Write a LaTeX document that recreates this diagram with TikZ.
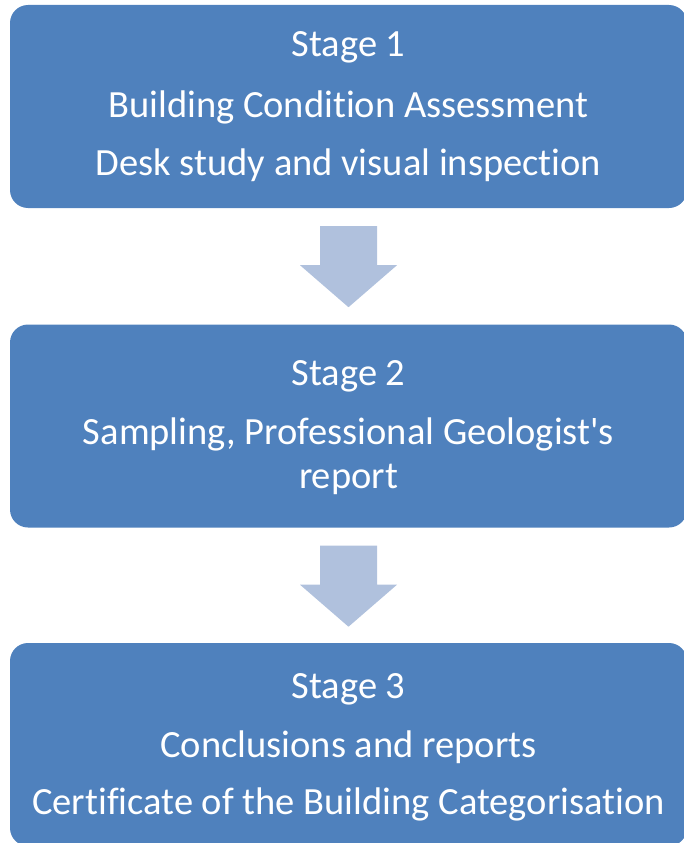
\documentclass[tikz,border=0pt]{standalone}
\usepackage{fontspec}
\setmainfont{Carlito}[Ligatures={NoCommon}]
\usetikzlibrary{calc}

\definecolor{stageblue}{HTML}{4F81BD}
\definecolor{arrowblue}{HTML}{B0C1DD}

\tikzset{
  stagebox/.style={fill=stageblue, draw=none, rounded corners=18pt,
    minimum width=677pt, minimum height=203pt, inner sep=0pt},
  stagetext/.style={text=white, anchor=base, inner sep=0pt,
    font=\fontsize{38.5}{46}\selectfont},
  flowarrow/.style={fill=arrowblue, draw=none}
}

% down-pointing block arrow placed below the south anchor of a box
\newcommand\stagearrow[1]{%
  \fill[flowarrow]
    ($(#1.south)+(-28.5,18)$) -- ($(#1.south)+(28.5,18)$) --
    ($(#1.south)+(28.5,57)$) -- ($(#1.south)+(48.5,57)$) --
    ($(#1.south)+(0,99)$) -- ($(#1.south)+(-48.5,57)$) --
    ($(#1.south)+(-28.5,57)$) -- cycle;}

\begin{document}
\begin{tikzpicture}[x=1pt, y=-1pt]
  \useasboundingbox (0,0) rectangle (684,843);

  % stage boxes
  \node[stagebox] (b1) at (348.5,106.5) {};
  \node[stagebox] (b2) at (348.5,426) {};
  \node[stagebox] (b3) at (348.5,744.5) {};

  % arrows between stages
  \stagearrow{b1}
  \stagearrow{b2}

  % stage 1
  \node[stagetext] (s1a) at (348.5,57) {Stage 1};
  \node[stagetext] (s1b) at (348.5,117) {Building Condition Assessment};
  \node[stagetext] (s1c) at (348.5,175) {Desk study and visual inspection};

  % stage 2
  \node[stagetext] (s2a) at (348.5,385) {Stage 2};
  \node[stagetext] (s2b) at (348.5,444) {Sampling, Professional Geologist\textquotesingle s};
  \node[stagetext] (s2c) at (348.5,488) {report};

  % stage 3
  \node[stagetext] (s3a) at (348.5,698) {Stage 3};
  \node[stagetext] (s3b) at (348.5,757) {Conclusions and reports};
  \node[stagetext] (s3c) at (348.5,814) {Certificate of the Building Categorisation};
\end{tikzpicture}
\end{document}
